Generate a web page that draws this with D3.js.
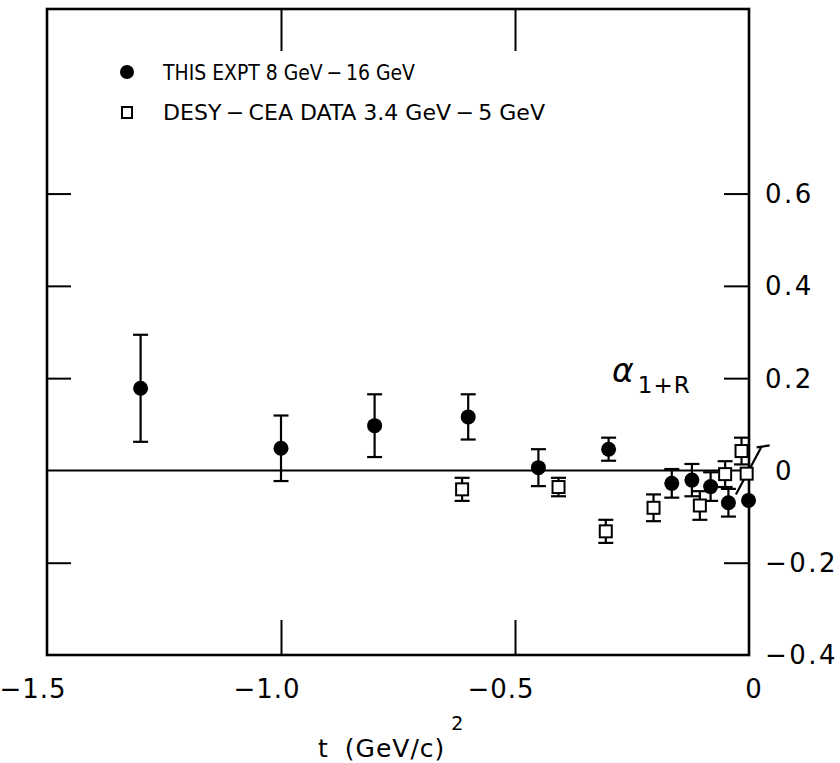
<!DOCTYPE html>
<html>
<head>
<meta charset="utf-8">
<script src="https://cdn.jsdelivr.net/npm/d3@7"></script>
<style>
  html, body { margin: 0; padding: 0; background: #fff; }
  svg { display: block; }
  text { fill: #000; }
</style>
</head>
<body>
<svg id="chart" width="840" height="763"></svg>
<script>
// ---- data ----
// "THIS EXPT 8 GeV - 16 GeV" (filled circles)
const exptT   = [-1.30, -1.00, -0.80, -0.60, -0.45, -0.30, -0.165, -0.122, -0.082, -0.044, -0.001];
const exptVal = [0.178, 0.048, 0.097, 0.116, 0.006, 0.046, -0.028, -0.021, -0.035, -0.070, -0.065];
const exptErr = [0.116, 0.071, 0.068, 0.049, 0.040, 0.025, 0.031, 0.035, 0.031, 0.030, 0.000];

// "DESY-CEA DATA 3.4 GeV - 5 GeV" (open squares)
const desyT   = [-0.613, -0.407, -0.306, -0.204, -0.105, -0.051, -0.016, -0.005];
const desyVal = [-0.041, -0.036, -0.132, -0.081, -0.076, -0.008, 0.042, -0.007];
const desyErr = [0.025, 0.020, 0.025, 0.029, 0.031, 0.028, 0.029, 0.000];
// slanted error bar drawn for the last DESY point: [t0, v0, t1, v1]
const desySlanted = [[-0.028, -0.052, 0.027, 0.052]];

const xTickValues = [-1.5, -1.0, -0.5, 0];
const xTickLabels = ["\u22121.5", "\u22121.0", "\u22120.5", "0"];
const xInnerTicks = [-1.0, -0.5];
const yTickValues = [0.6, 0.4, 0.2, 0, -0.2, -0.4];
const yTickLabels = ["0.6", "0.4", "0.2", "0", "\u22120.2", "\u22120.4"];
const yInnerTicks = [0.6, 0.4, 0.2, -0.2];

const legendLabels = ["THIS EXPT  8 GeV\u2009\u2212\u200916 GeV", "DESY\u2009\u2212\u2009CEA DATA 3.4 GeV\u2009\u2212\u20095 GeV"];

// ---- layout ----
const svg = d3.select("#chart");
const pL = 47, pR = 749, pT = 9, pB = 655;
const x = d3.scaleLinear().domain([-1.5, 0]).range([pL, pR]);
const y = d3.scaleLinear().domain([-0.4, 1.0]).range([pB, pT]);

const ink = "#000";

// zero line
svg.append("line")
  .attr("x1", x(-1.5)).attr("x2", x(0))
  .attr("y1", y(0)).attr("y2", y(0))
  .attr("stroke", ink).attr("stroke-width", 2);

// frame
svg.append("rect")
  .attr("x", pL).attr("y", pT)
  .attr("width", pR - pL).attr("height", pB - pT)
  .attr("fill", "none").attr("stroke", ink).attr("stroke-width", 2.6);

// inner ticks via d3 axes
function styleAxis(g) {
  g.select(".domain").remove();
  g.selectAll(".tick line").attr("stroke", ink).attr("stroke-width", 2);
  g.selectAll(".tick text").remove();
}
svg.append("g").attr("transform", `translate(0,${pB})`)
  .call(d3.axisBottom(x).tickValues(xInnerTicks).tickSize(-35).tickFormat(""))
  .call(styleAxis);
svg.append("g").attr("transform", `translate(0,${pT})`)
  .call(d3.axisTop(x).tickValues(xInnerTicks).tickSize(-42).tickFormat(""))
  .call(styleAxis);
svg.append("g").attr("transform", `translate(${pR},0)`)
  .call(d3.axisRight(y).tickValues(yInnerTicks).tickSize(-25).tickFormat(""))
  .call(styleAxis);
svg.append("g").attr("transform", `translate(${pL},0)`)
  .call(d3.axisLeft(y).tickValues(yInnerTicks).tickSize(-24).tickFormat(""))
  .call(styleAxis);

// x tick labels
svg.append("g").selectAll("text")
  .data(xTickValues)
  .join("text")
  .attr("x", (d) => x(d) + (d < 0 ? -14 : 5))
  .attr("y", 698)
  .attr("text-anchor", "middle")
  .attr("font-family", "DejaVu Sans, sans-serif")
  .attr("font-size", 26)
  .attr("letter-spacing", 1)
  .text((d, i) => xTickLabels[i]);

// y tick labels (right side)
svg.append("g").selectAll("text")
  .data(yTickValues)
  .join("text")
  .attr("x", (d) => d === 0 ? 775 : 765)
  .attr("y", (d) => y(d))
  .attr("dy", "0.36em")
  .attr("font-family", "DejaVu Sans, sans-serif")
  .attr("font-size", 26)
  .attr("letter-spacing", 2.5)
  .text((d, i) => yTickLabels[i]);

// axis title
const title = svg.append("text")
  .attr("x", 318).attr("y", 757)
  .attr("font-family", "DejaVu Sans, sans-serif")
  .attr("font-size", 25)
  .attr("letter-spacing", 1);
title.append("tspan").text("t");
title.append("tspan").attr("dx", 16).text("(GeV/c)");
title.append("tspan").attr("dy", -27).attr("dx", 6).attr("font-size", 19).text("2");

// alpha label
const alpha = svg.append("text")
  .attr("x", 612).attr("y", 382)
  .attr("font-family", "DejaVu Sans, sans-serif")
  .attr("font-size", 33)
  .attr("font-style", "italic");
alpha.append("tspan").text("\u03b1");
alpha.append("tspan").attr("dx", 4).attr("dy", 11).attr("font-size", 23)
  .attr("font-style", "normal").attr("letter-spacing", 1).text("1+R");

// data arrays to objects
const expt = exptT.map((t, i) => ({ t, v: exptVal[i], e: exptErr[i] }));
const desy = desyT.map((t, i) => ({ t, v: desyVal[i], e: desyErr[i] }));

const capW = 15;
function errorBars(data) {
  const g = svg.append("g").attr("stroke", ink).attr("stroke-width", 2.2);
  const withErr = data.filter((d) => d.e > 0);
  g.selectAll("line.v").data(withErr).join("line").attr("class", "v")
    .attr("x1", (d) => x(d.t)).attr("x2", (d) => x(d.t))
    .attr("y1", (d) => y(d.v + d.e)).attr("y2", (d) => y(d.v - d.e));
  g.selectAll("line.top").data(withErr).join("line").attr("class", "top")
    .attr("x1", (d) => x(d.t) - capW / 2).attr("x2", (d) => x(d.t) + capW / 2)
    .attr("y1", (d) => y(d.v + d.e)).attr("y2", (d) => y(d.v + d.e));
  g.selectAll("line.bot").data(withErr).join("line").attr("class", "bot")
    .attr("x1", (d) => x(d.t) - capW / 2).attr("x2", (d) => x(d.t) + capW / 2)
    .attr("y1", (d) => y(d.v - d.e)).attr("y2", (d) => y(d.v - d.e));
}
errorBars(desy);
errorBars(expt);

// slanted error bar
const sg = svg.append("g").attr("stroke", ink).attr("stroke-width", 2.2);
sg.selectAll("line.s").data(desySlanted).join("line").attr("class", "s")
  .attr("x1", (d) => x(d[0])).attr("y1", (d) => y(d[1]))
  .attr("x2", (d) => x(d[2])).attr("y2", (d) => y(d[3]));
sg.selectAll("line.c").data(desySlanted).join("line").attr("class", "c")
  .attr("x1", (d) => x(d[2]) - 5).attr("y1", (d) => y(d[3]) + 1)
  .attr("x2", (d) => x(d[2]) + 8).attr("y2", (d) => y(d[3]) - 1);

// markers
const sq = 12;
svg.append("g").selectAll("rect")
  .data(desy).join("rect")
  .attr("x", (d) => x(d.t) - sq / 2).attr("y", (d) => y(d.v) - sq / 2)
  .attr("width", sq).attr("height", sq)
  .attr("fill", "#fff").attr("stroke", ink).attr("stroke-width", 2);

svg.append("g").selectAll("circle")
  .data(expt).join("circle")
  .attr("cx", (d) => x(d.t)).attr("cy", (d) => y(d.v))
  .attr("r", 7.5).attr("fill", ink);

// legend
const lg = svg.append("g");
lg.append("circle").attr("cx", 127).attr("cy", 72).attr("r", 7).attr("fill", ink);
lg.append("rect").attr("x", 122).attr("y", 107).attr("width", 10).attr("height", 11)
  .attr("fill", "#fff").attr("stroke", ink).attr("stroke-width", 2);
const legendY = [80, 120];
const legendW = [252, 382];
lg.selectAll("text").data(legendLabels).join("text")
  .attr("x", 163).attr("y", (d, i) => legendY[i])
  .attr("font-family", "DejaVu Sans Condensed, DejaVu Sans, sans-serif")
  .attr("font-size", 21)
  .attr("textLength", (d, i) => legendW[i])
  .attr("lengthAdjust", "spacingAndGlyphs")
  .text((d) => d);
</script>
</body>
</html>
